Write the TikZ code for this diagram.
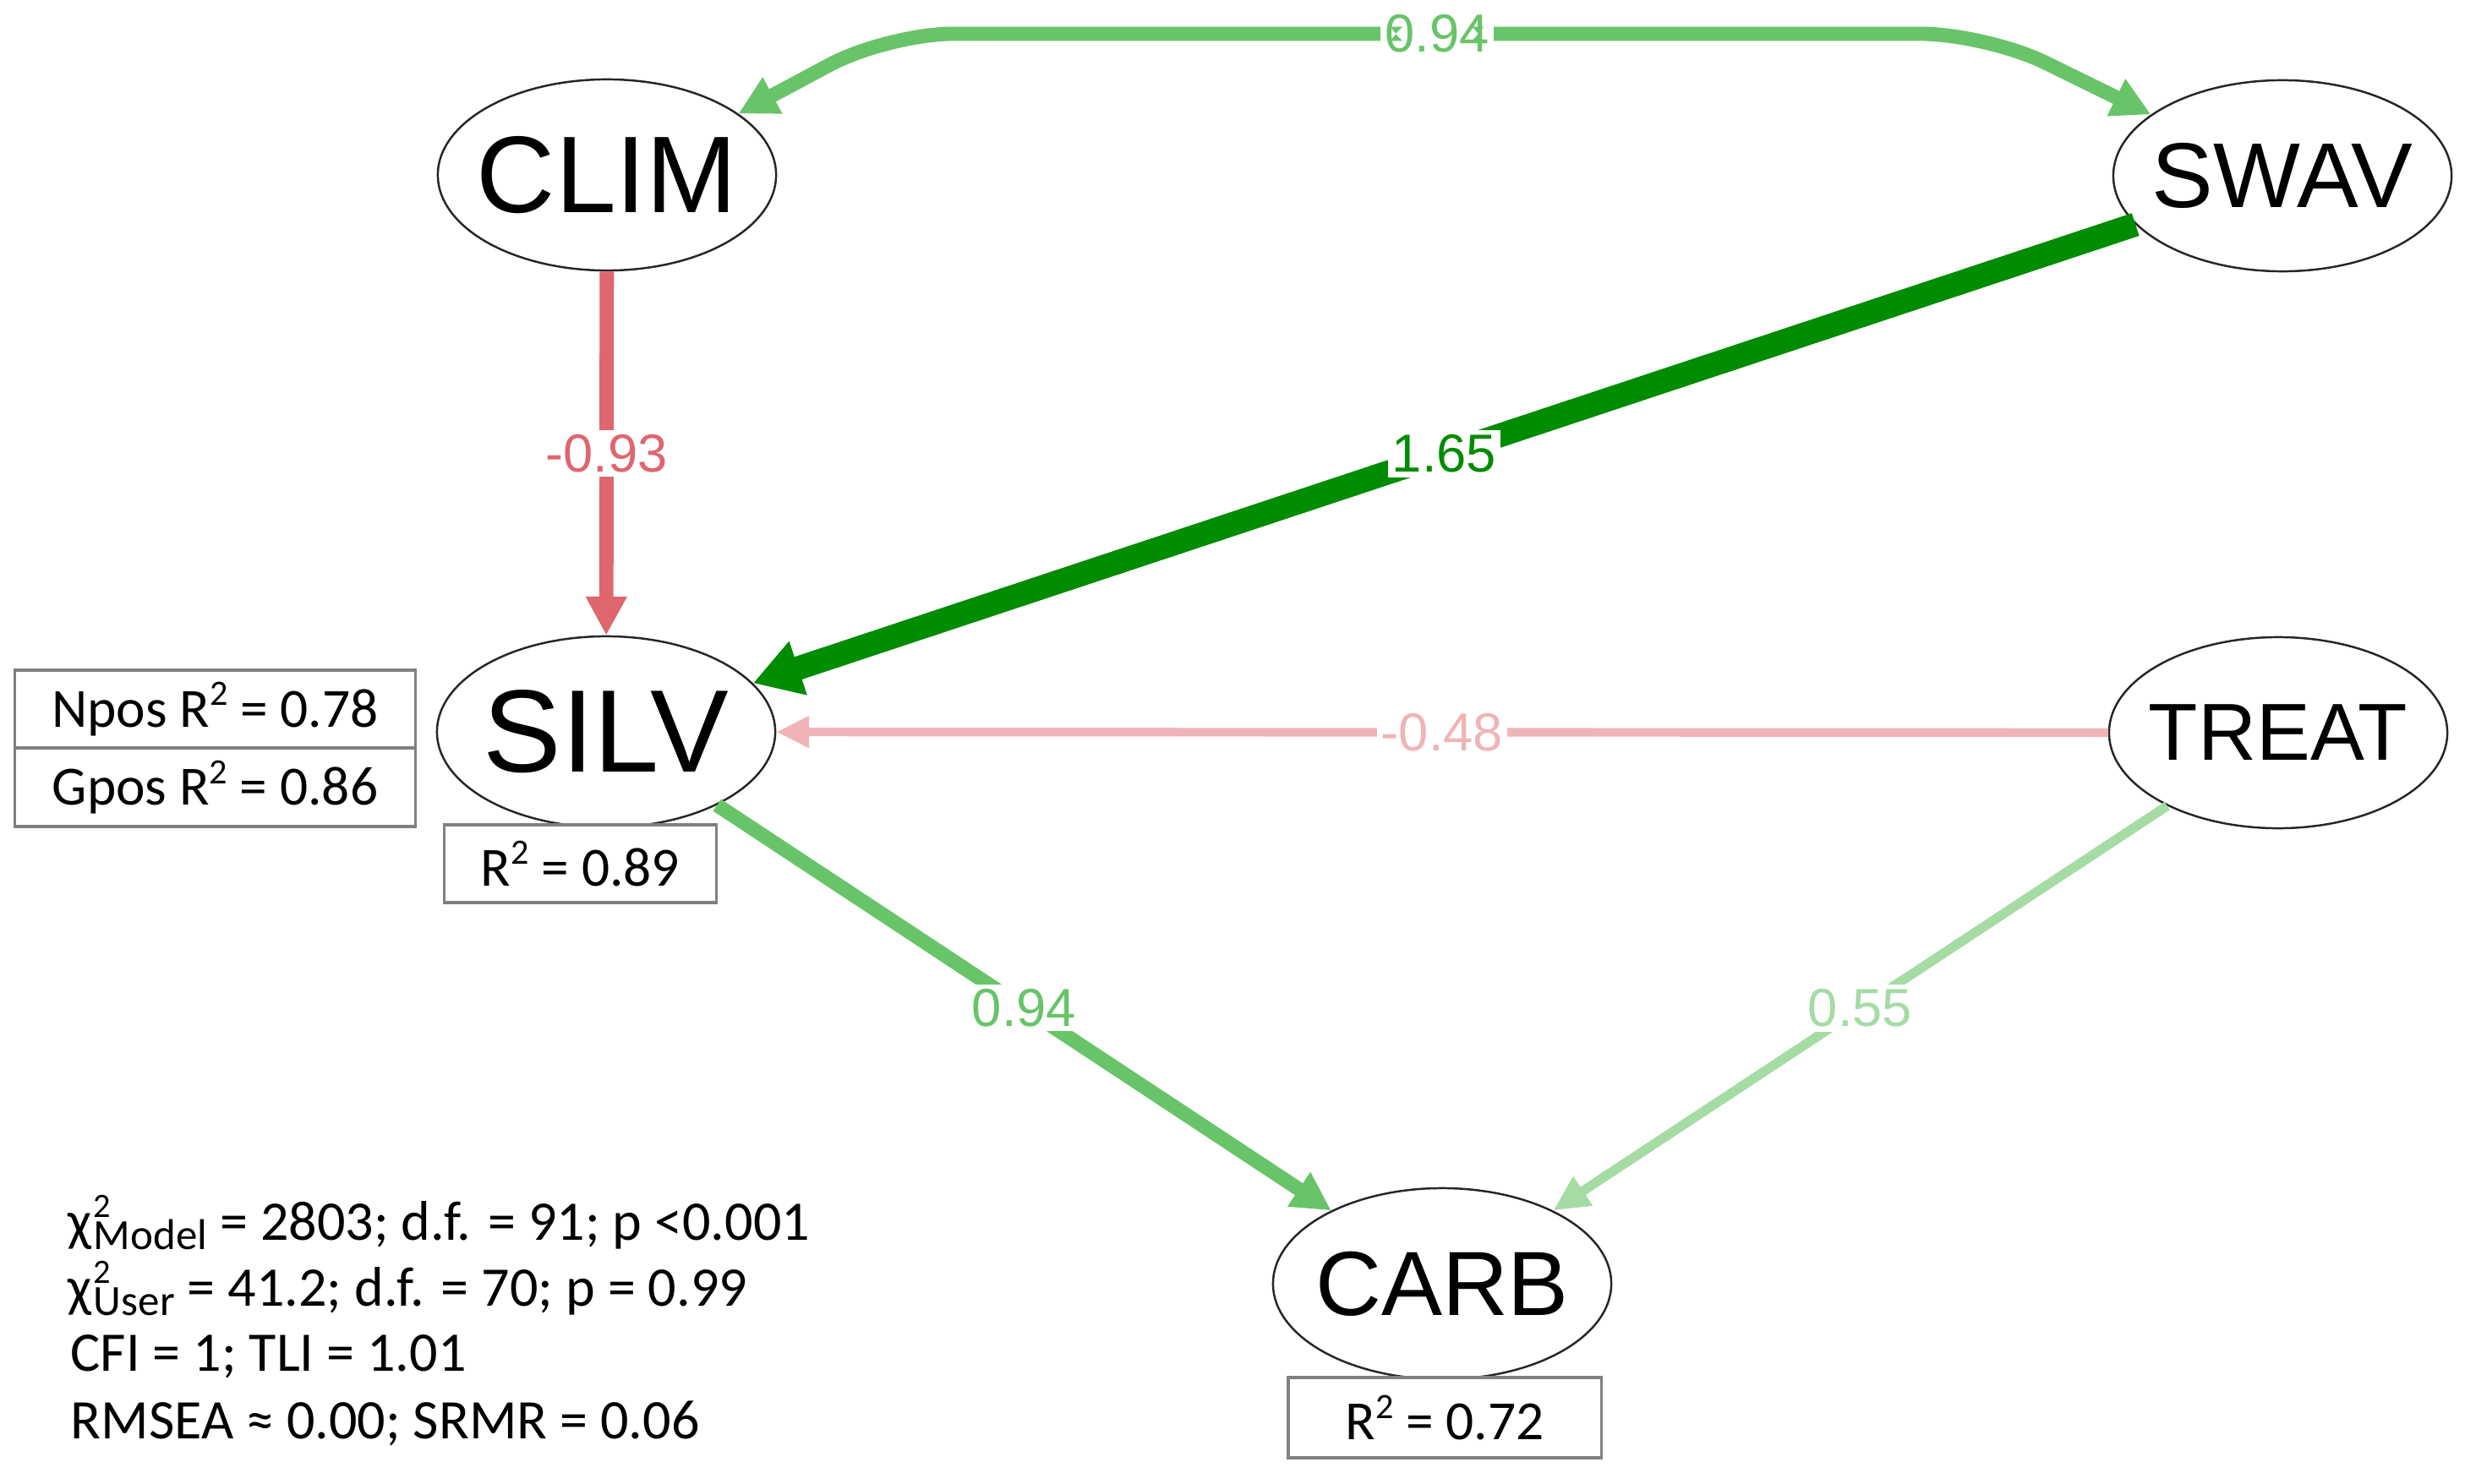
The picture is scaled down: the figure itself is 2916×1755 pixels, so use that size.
\documentclass[tikz,border=0pt]{standalone}
\usepackage{fontspec}
\setmainfont{Liberation Sans}
\newfontfamily\cali{Carlito}
\usetikzlibrary{shapes.geometric,arrows.meta}
\definecolor{cred}{RGB}{222,102,110}
\definecolor{cpink}{RGB}{240,180,182}
\definecolor{cdgreen}{RGB}{0,140,0}
\definecolor{cmgreen}{RGB}{104,196,104}
\definecolor{clgreen}{RGB}{164,220,164}
\definecolor{cbox}{RGB}{128,128,128}
\newcommand\supt[1]{\raisebox{7.3pt}{\fontsize{12}{12}\selectfont #1}}
\newcommand\chisq[1]{χ\kern0.6pt\rlap{\raisebox{7.4pt}{\fontsize{11.5}{11}\selectfont 2}}\raisebox{-3.2pt}{\fontsize{14.5}{14}\selectfont #1}}
\newcommand\ntext[1]{\makebox[0pt]{#1}}
\begin{document}
\begin{tikzpicture}[x=0.01cm,y=-0.01cm,
  latent/.style={ellipse, draw=black!85, line width=0.7pt, minimum width=4.0cm, minimum height=2.26cm, inner sep=0pt, fill=white},
  rbox/.style={draw=cbox, line width=0.9pt, rectangle, inner sep=0pt, font=\cali\fontsize{18.6}{20}\selectfont, fill=white},
  elabel/.style={fill=white, inner sep=1.5pt, font=\fontsize{18}{20}\selectfont},
  stat/.style={anchor=base west, inner sep=0pt, font=\cali\fontsize{18.8}{22}\selectfont},
  pe/.style={line cap=butt}
]
\useasboundingbox (0,0) rectangle (2916,1755);
\fill[white] (0,0) rectangle (2916,1755);

\node[latent, font=\fontsize{36.7}{40}\selectfont] (clim) at (718,207) {\ntext{CLIM}};
\node[latent, font=\fontsize{31}{34}\selectfont] (swav) at (2700,208) {\ntext{SWAV}};
\node[latent, font=\fontsize{39.5}{42}\selectfont] (silv) at (717,866) {\ntext{SILV}};
\node[latent, font=\fontsize{27.2}{30}\selectfont] (treat) at (2695,867) {\ntext{TREAT}};
\node[latent, font=\fontsize{30.7}{34}\selectfont] (carb) at (1706,1519) {\ntext{CARB}};

% edges
\draw[pe, cmgreen, line width=4.8pt, rounded corners=22pt,
  {Triangle[length=13pt,width=13pt]}-{Triangle[length=13pt,width=13pt]}]
  (clim.25) -- (1050,40) -- node[elabel, text=cmgreen] (l1) {0.94} (2350,40) -- (swav.155);
\draw[pe, cred, line width=4.8pt, -{Triangle[length=13pt,width=13pt]}]
  (clim) -- node[elabel, text=cred] (l2) {-0.93} (silv);
\draw[pe, cdgreen, line width=8pt, -{Triangle[length=16pt,width=18pt]}]
  (swav) -- node[elabel, text=cdgreen] (l3) {1.65} (silv);
\draw[pe, cpink, line width=2.9pt, -{Triangle[length=11pt,width=10pt]}]
  (treat) -- node[elabel, text=cpink] (l4) {-0.48} (silv);
\draw[pe, cmgreen, line width=4.8pt, -{Triangle[length=13pt,width=13pt]}]
  (silv) -- node[elabel, text=cmgreen] (l5) {0.94} (carb);
\draw[pe, clgreen, line width=3.2pt, -{Triangle[length=12pt,width=11pt]}]
  (treat) -- node[elabel, text=clgreen] (l6) {0.55} (carb);

% R2 boxes
\node[rbox, minimum width=4.73cm, minimum height=0.92cm] (npos) at (254.5,839) {Npos R\supt{2} = 0.78};
\node[rbox, minimum width=4.73cm, minimum height=0.93cm] (gpos) at (254.5,931.5) {Gpos R\supt{2} = 0.86};
\node[rbox, minimum width=3.21cm, minimum height=0.92cm] (silvr) at (686.5,1022) {R\supt{2} = 0.89};
\node[rbox, minimum width=3.70cm, minimum height=0.95cm] (carbr) at (1709,1677.5) {R\supt{2} = 0.72};

% fit statistics
\node[stat] (s1) at (80,1467) {\chisq{Model} = 2803; d.f. = 91; p <0.001};
\node[stat] (s2) at (80,1545) {\chisq{User} = 41.2; d.f. = 70; p = 0.99};
\node[stat] (s3) at (83,1622) {CFI = 1; TLI = 1.01};
\node[stat] (s4) at (83,1702) {RMSEA ≈ 0.00; SRMR = 0.06};
\end{tikzpicture}
\end{document}
